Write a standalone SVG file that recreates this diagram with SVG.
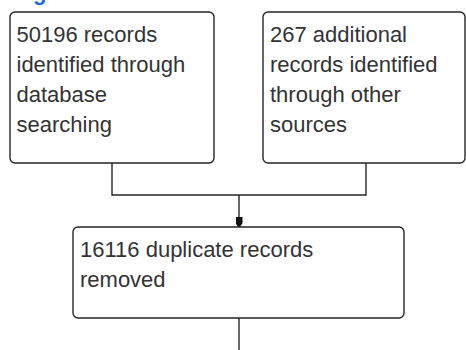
<svg xmlns="http://www.w3.org/2000/svg" width="466" height="350" viewBox="0 0 466 350">
<defs>
<style>
.box{fill:#fff;stroke:#262626;stroke-width:1.4}
.lbl{font-family:"Liberation Sans",Arial,sans-serif;font-size:22px;fill:#333}
.conn{fill:none;stroke:#262626;stroke-width:1.4}
</style>
<marker id="arr" markerWidth="10" markerHeight="7" refX="10" refY="3.5" orient="auto" markerUnits="userSpaceOnUse" viewBox="0 0 10 7">
<path d="M0,0 L6,0 L10,2.5 L10,4.5 L6,7 L0,7 Z" fill="#111"/>
</marker>
</defs>
<rect width="466" height="350" fill="#fff"/>
<text x="33" y="-0.5" font-family="Liberation Sans,Arial,sans-serif" font-size="22" font-weight="bold" fill="#1c6ed4">g</text>
<g id="connectors">
<path class="conn" d="M112,163 V195 H366 V163"/>
<path class="conn" d="M239,195 V227" marker-end="url(#arr)"/>
<path class="conn" d="M239,318 V350"/>
</g>
<g id="node1">
<rect class="box" x="10" y="12" width="204" height="151" rx="5"/>
<text class="lbl" x="16.5" y="42">50196 records</text>
<text class="lbl" x="16.5" y="72">identified through</text>
<text class="lbl" x="16.5" y="102">database</text>
<text class="lbl" x="16.5" y="132">searching</text>
</g>
<g id="node2">
<rect class="box" x="263" y="12" width="202" height="151" rx="5"/>
<text class="lbl" x="270" y="42">267 additional</text>
<text class="lbl" x="270" y="72">records identified</text>
<text class="lbl" x="270" y="102">through other</text>
<text class="lbl" x="270" y="132">sources</text>
</g>
<g id="node3">
<rect class="box" x="73" y="227" width="331" height="91" rx="5"/>
<text class="lbl" x="80" y="257">16116 duplicate records</text>
<text class="lbl" x="80" y="287">removed</text>
</g>
</svg>
